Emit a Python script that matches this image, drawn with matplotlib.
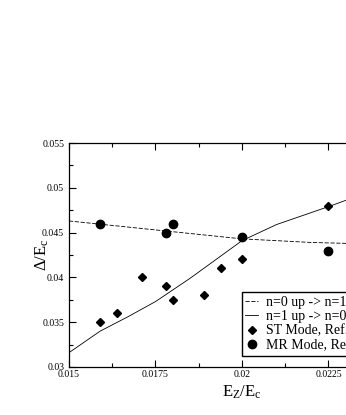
import matplotlib.pyplot as plt
from matplotlib.ticker import MultipleLocator, FuncFormatter

plt.rcParams['font.family'] = ['Liberation Serif', 'DejaVu Serif']
plt.rcParams['mathtext.fontset'] = 'custom'
plt.rcParams['mathtext.rm'] = 'Liberation Serif'
plt.rcParams['mathtext.it'] = 'Liberation Serif'

# n=0 up -> n=1 down (dashed)
dash_x = [0.015, 0.016, 0.017, 0.018, 0.019, 0.020, 0.021, 0.022, 0.023, 0.025]
dash_y = [0.0463, 0.0459, 0.0455, 0.0451, 0.0447, 0.0443, 0.0441, 0.0439, 0.0438, 0.0437]

# n=1 up -> n=0 down (solid)
solid_x = [0.015, 0.0159, 0.0167, 0.0175, 0.0185, 0.020, 0.021, 0.0225, 0.023, 0.025]
solid_y = [0.0316, 0.0340, 0.0356, 0.0373, 0.0399, 0.0441, 0.0459, 0.0479, 0.0486, 0.0500]

# ST Mode
st_x = [0.0159, 0.0164, 0.0171, 0.0178, 0.0180, 0.0189, 0.0194, 0.0200, 0.0225]
st_y = [0.035, 0.036, 0.040, 0.039, 0.0375, 0.038, 0.041, 0.042, 0.048]

# MR Mode
mr_x = [0.0159, 0.0178, 0.0180, 0.0200, 0.0225]
mr_y = [0.046, 0.045, 0.046, 0.0445, 0.043]

fig = plt.figure(figsize=(3.46, 4.15), dpi=100)
ax = fig.add_axes([0.1994, 0.1157, 1.0, 0.5397])

ax.plot(dash_x, dash_y, color='black', lw=0.6, ls=(0, (5, 2)), label='n=0 up -> n=1 down')
ax.plot(solid_x, solid_y, color='black', lw=0.6, label='n=1 up -> n=0 down')
ax.plot(st_x, st_y, 'D', color='black', ms=4, ls='none', label='ST Mode, Ref. [1]')
ax.plot(mr_x, mr_y, 'o', color='black', ms=6, ls='none', label='MR Mode, Ref. [2]')

ax.set_xlim(0.015, 0.025)
ax.set_ylim(0.03, 0.055)
ax.xaxis.set_major_locator(MultipleLocator(0.0025))
ax.xaxis.set_minor_locator(MultipleLocator(0.00125))
ax.yaxis.set_major_locator(MultipleLocator(0.005))
ax.yaxis.set_minor_locator(MultipleLocator(0.0025))
fmt = FuncFormatter(lambda v, p: ('%.4f' % v).rstrip('0'))
ax.xaxis.set_major_formatter(fmt)
ax.yaxis.set_major_formatter(fmt)
ax.tick_params(which='both', direction='in', top=True, right=True, labelsize=7, width=0.8)
ax.tick_params(axis='x', pad=2.5)
ax.tick_params(which='major', length=5)
ax.tick_params(which='minor', length=3)
for s in ax.spines.values():
    s.set_linewidth(0.9)

ax.set_xlabel(r'E$_\mathregular{Z}$/E$_\mathregular{c}$', fontsize=12, labelpad=3)
ax.set_ylabel(r'$\Delta$/E$_\mathregular{c}$', fontsize=12)
ax.yaxis.set_label_coords(-0.052, 0.5)

ax.legend(loc='lower left', bbox_to_anchor=(0.5, 0.05), borderaxespad=0, fontsize=10,
          frameon=True, fancybox=False, edgecolor='black', framealpha=1, handlelength=0.9,
          labelspacing=0.1, borderpad=0.25, handletextpad=0.6)

fig.savefig('out.png', dpi=100)
